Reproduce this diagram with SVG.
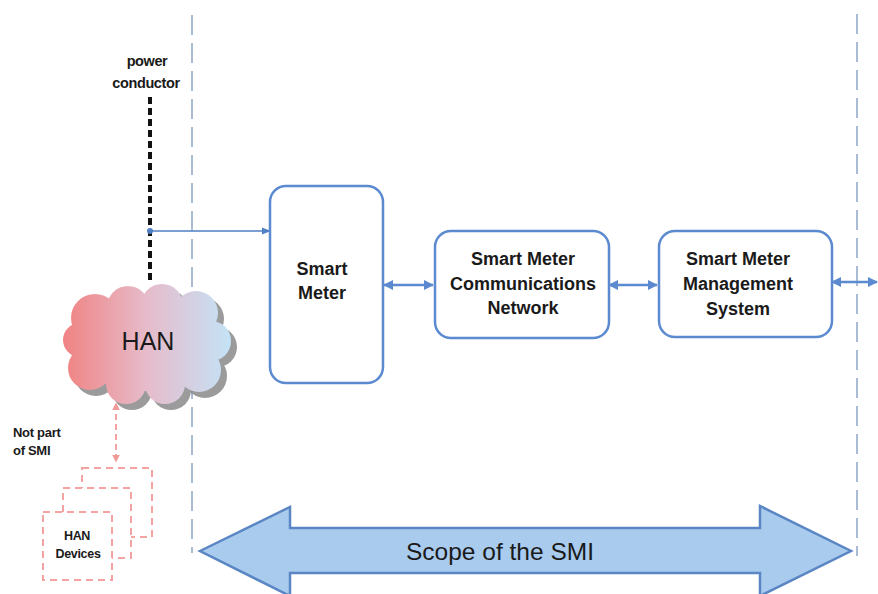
<svg xmlns="http://www.w3.org/2000/svg" width="878" height="594" viewBox="0 0 878 594">
<style>
.box{fill:#fff;stroke:#5b8ad0;stroke-width:2.5}
.lbl{font-family:"Liberation Sans",Arial,sans-serif;font-weight:bold;font-size:18px;fill:#1a1a1a;text-anchor:middle}
.sm{font-family:"Liberation Sans",Arial,sans-serif;font-weight:bold;fill:#1a1a1a}
.scope{fill:none;stroke:#a9bcd4;stroke-width:2;stroke-dasharray:20 8}
.conn{fill:none;stroke:#5b8ad0;stroke-width:2.5}
.dev{fill:#fff;stroke:#f4a3a3;stroke-width:2;stroke-dasharray:7 5}
</style>
<defs>
<linearGradient id="cg" gradientUnits="userSpaceOnUse" x1="65" y1="0" x2="230" y2="0">
<stop offset="0" stop-color="#f08484"/>
<stop offset="0.5" stop-color="#e6bccb"/>
<stop offset="1" stop-color="#c4e2f6"/>
</linearGradient>
<marker id="ah" viewBox="0 0 10 10" refX="9" refY="5" markerWidth="4" markerHeight="4" orient="auto-start-reverse">
<path d="M0,0 L10,5 L0,10 z" fill="#5b8ad0"/>
</marker>
<marker id="ahs" viewBox="0 0 10 10" refX="9" refY="5" markerWidth="6" markerHeight="6" orient="auto-start-reverse">
<path d="M0,1 L10,5 L0,9 z" fill="#4f7fc4"/>
</marker>
<marker id="ph" viewBox="0 0 10 10" refX="8" refY="5" markerWidth="4" markerHeight="4" orient="auto-start-reverse">
<path d="M0,0 L10,5 L0,10 z" fill="#f09a9a"/>
</marker>
<g id="cloudShape">
<circle cx="95" cy="318" r="24"/>
<circle cx="128" cy="307" r="21"/>
<circle cx="162" cy="305" r="21"/>
<circle cx="196" cy="313" r="22"/>
<circle cx="211" cy="341" r="20"/>
<circle cx="199" cy="370" r="22"/>
<circle cx="165" cy="384" r="20"/>
<circle cx="126" cy="384" r="20"/>
<circle cx="90" cy="368" r="22"/>
<circle cx="80" cy="340" r="17"/>
<ellipse cx="147" cy="345" rx="72" ry="46"/>
</g>
</defs>
<rect width="878" height="594" fill="#fff"/>

<g id="scope-lines">
<line class="scope" x1="192" y1="15" x2="192" y2="553"/>
<line class="scope" x1="857" y1="14" x2="857" y2="556"/>
</g>

<g id="power-conductor">
<line x1="150" y1="97" x2="150" y2="280" stroke="#111" stroke-width="4" stroke-dasharray="7 4"/>
<text class="sm" x="147" y="66" font-size="14.5" text-anchor="middle" letter-spacing="-0.4">power</text>
<text class="sm" x="146" y="88" font-size="14.5" text-anchor="middle" letter-spacing="-0.4">conductor</text>
</g>

<g id="connectors">
<circle cx="150" cy="231" r="3" fill="#4f7fc4"/>
<line x1="150" y1="231" x2="270" y2="231" stroke="#4f7fc4" stroke-width="1.5" marker-end="url(#ahs)"/>
<line class="conn" x1="384" y1="285" x2="433" y2="285" marker-start="url(#ah)" marker-end="url(#ah)"/>
<line class="conn" x1="609" y1="285" x2="657" y2="285" marker-start="url(#ah)" marker-end="url(#ah)"/>
<line class="conn" x1="832" y1="282" x2="877" y2="282" marker-start="url(#ah)" marker-end="url(#ah)"/>
<line x1="116" y1="404" x2="116" y2="461" stroke="#f4a3a3" stroke-width="2" stroke-dasharray="6 4" marker-start="url(#ph)" marker-end="url(#ph)"/>
</g>

<g id="han-cloud">
<use href="#cloudShape" fill="#8a8a8a" transform="translate(6,6)" opacity="0.85"/>
<use href="#cloudShape" fill="url(#cg)"/>
<text x="148" y="350" font-family="'Liberation Sans',Arial,sans-serif" font-size="25" fill="#1a1a1a" text-anchor="middle">HAN</text>
</g>

<g id="smart-meter">
<rect class="box" x="270" y="186" width="113" height="197" rx="16"/>
<text class="lbl" x="322" y="275">Smart</text>
<text class="lbl" x="322" y="299">Meter</text>
</g>

<g id="comms-network">
<rect class="box" x="435" y="231" width="174" height="107" rx="16"/>
<text class="lbl" x="523" y="265">Smart Meter</text>
<text class="lbl" x="523" y="290">Communications</text>
<text class="lbl" x="523" y="314">Network</text>
</g>

<g id="mgmt-system">
<rect class="box" x="659" y="231" width="173" height="106" rx="16"/>
<text class="lbl" x="738" y="265">Smart Meter</text>
<text class="lbl" x="738" y="290">Management</text>
<text class="lbl" x="738" y="315">System</text>
</g>

<g id="not-part">
<text class="sm" x="13" y="437" font-size="13" letter-spacing="-0.3">Not part</text>
<text class="sm" x="13" y="455" font-size="13" letter-spacing="-0.3">of SMI</text>
</g>

<g id="han-devices">
<rect class="dev" x="82" y="468" width="70" height="69"/>
<rect class="dev" x="63" y="488" width="68" height="70"/>
<rect class="dev" x="43" y="512" width="69" height="68"/>
<text class="sm" x="77" y="540" font-size="12.5" text-anchor="middle" letter-spacing="-0.3">HAN</text>
<text class="sm" x="78" y="558" font-size="12.5" text-anchor="middle" letter-spacing="-0.3">Devices</text>
</g>

<g id="scope-arrow">
<path d="M200,551 L290,507 L290,528 L760,528 L760,506 L851,551 L760,596 L760,573 L290,573 L290,596 Z" fill="#a9cbee" stroke="#5b86c4" stroke-width="2.5" stroke-linejoin="miter"/>
<text x="500" y="560" font-family="'Liberation Sans',Arial,sans-serif" font-size="24.5" fill="#1a1a1a" text-anchor="middle">Scope of the SMI</text>
</g>
</svg>
